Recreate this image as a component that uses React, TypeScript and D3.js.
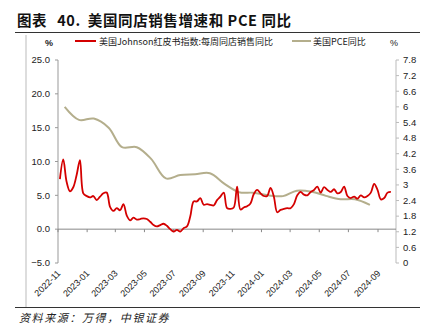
import React from "react";
import * as d3 from "d3";

const TITLE_PARTS = ["图表", "40.", "美国同店销售增速和 PCE 同比"];
const SOURCE = "资料来源：万得，中银证券";
const SERIES_RED = "美国Johnson红皮书指数:每周同店销售同比";
const SERIES_PCE = "美国PCE同比";

// weekly Redbook YoY (%), weeks ending from 2022-11-05
const redbookStart = "2022-11-05";
const redbookValues = [
  7.4, 10.3, 7.0, 5.6, 6.2, 8.0, 10.2, 5.3, 4.9, 4.7,
  4.9, 4.3, 4.8, 5.3, 5.4, 3.3, 2.7, 3.1, 2.8, 3.7,
  2.0, 1.3, 1.7, 1.4, 1.5, 1.6, 1.5, 1.1, 0.6, 0.4,
  0.6, 0.8, 0.5, 0.0, -0.35, -0.1, -0.35, 0.15, 0.4, 1.9,
  4.1, 4.1, 4.6, 3.6, 3.7, 3.6, 3.5, 4.3, 4.8, 5.4,
  3.1, 3.0, 3.2, 6.3, 2.9, 3.2, 3.4, 3.8, 5.2, 5.8,
  5.3, 4.9, 4.9, 6.1, 4.8, 2.5, 2.85, 3.0, 3.1, 3.1,
  3.7, 5.0, 5.5, 5.1, 5.0, 5.5, 5.8, 6.3, 5.4, 6.2,
  5.8, 5.5, 5.9, 5.3, 5.5, 6.3, 4.9, 4.6, 4.8, 4.5,
  5.0, 4.7, 4.9, 5.4, 6.7, 5.8, 4.4, 4.6, 5.4, 5.5,
];

// monthly PCE YoY (%), Nov 2022 .. Aug 2024
const pceMonths = [
  "2022-11", "2022-12", "2023-01", "2023-02", "2023-03", "2023-04", "2023-05", "2023-06",
  "2023-07", "2023-08", "2023-09", "2023-10", "2023-11", "2023-12", "2024-01", "2024-02",
  "2024-03", "2024-04", "2024-05", "2024-06", "2024-07", "2024-08",
];
const pceValues = [
  6.0, 5.5, 5.55, 5.2, 4.45, 4.45, 4.0, 3.25, 3.38, 3.41, 3.45, 3.05,
  2.72, 2.7, 2.6, 2.57, 2.78, 2.74, 2.58, 2.45, 2.45, 2.23,
];

const leftTicks = [-5, 0, 5, 10, 15, 20, 25];
const rightTicks = [0, 0.6, 1.2, 1.8, 2.4, 3, 3.6, 4.2, 4.8, 5.4, 6, 6.6, 7.2, 7.8];

const RED = "#d40000";
const OLIVE = "#b4ae8c";
const NUM_FONT = "'Liberation Sans', Arial, sans-serif";
const CJK_FONT = "'Noto Sans CJK SC', 'Noto Sans', sans-serif";

const parseDay = d3.timeParse("%Y-%m-%d");
const parseMonth = d3.timeParse("%Y-%m");
const fmtTick = d3.timeFormat("%Y-%m");

export default function App() {
  const W = 435, H = 331;
  const x = d3.scaleTime()
    .domain([new Date(2022, 10, 1), new Date(2024, 8, 1)])
    .range([58, 378]);
  const yL = d3.scaleLinear().domain([-5, 25]).range([263, 60]);
  const yR = d3.scaleLinear().domain([0, 7.8]).range([263, 60]);

  const start = parseDay(redbookStart)!;
  const red = redbookValues.map((v, i) => ({ d: d3.timeDay.offset(start, 7 * i), v }));
  const pce = pceValues.map((v, i) => {
    const m = parseMonth(pceMonths[i])!;
    return { d: d3.timeDay.offset(m, 14), v };
  });

  const redLine = d3.line<{ d: Date; v: number }>()
    .x((p) => x(p.d)).y((p) => yL(p.v)).curve(d3.curveCatmullRom.alpha(0.5));
  const pceLine = d3.line<{ d: Date; v: number }>()
    .x((p) => x(p.d)).y((p) => yR(p.v)).curve(d3.curveCatmullRom.alpha(0.5));

  const xTicks = d3.timeMonth.range(new Date(2022, 10, 1), new Date(2024, 9, 1), 2);
  const xLeft = 58, xRight = 396;
  const y0 = yL(0);

  return (
    <svg width={W} height={H} style={{ position: "absolute", left: 0, top: 0, background: "#fff" }}>
      {/* title */}
      <text x={17} y={26} fontFamily={CJK_FONT} fontWeight={700} fontSize={14.5} fill="#111" letterSpacing={0.6}>
        <tspan>{TITLE_PARTS[0]}</tspan>
        <tspan dx={10}>{TITLE_PARTS[1]}</tspan>
        <tspan dx={7}>{TITLE_PARTS[2]}</tspan>
      </text>
      <line x1={15} x2={420} y1={32.5} y2={32.5} stroke="#333" strokeWidth={1} />
      {/* frame left */}
      <line x1={26} x2={26} y1={35} y2={307} stroke="#bbb" strokeWidth={1} />
      {/* bottom rule */}
      <line x1={15} x2={420} y1={307.5} y2={307.5} stroke="#333" strokeWidth={1} />
      <text x={19} y={322} fontFamily={CJK_FONT} fontStyle="italic" fontSize={11} letterSpacing={1.6} fill="#222">{SOURCE}</text>

      {/* legend */}
      <line x1={75} x2={96} y1={41} y2={41} stroke={RED} strokeWidth={2} />
      <text x={99} y={44.5} fontFamily={CJK_FONT} fontSize={9} fill="#222">{SERIES_RED}</text>
      <line x1={292} x2={311} y1={41} y2={41} stroke={OLIVE} strokeWidth={2} />
      <text x={313} y={44.5} fontFamily={CJK_FONT} fontSize={9} fill="#222">{SERIES_PCE}</text>

      {/* % units */}
      <text x={49} y={46} textAnchor="middle" fontFamily={NUM_FONT} fontSize={9} fontWeight={700} fill="#222">%</text>
      <text x={394} y={46} textAnchor="middle" fontFamily={NUM_FONT} fontSize={9} fill="#222">%</text>

      {/* left axis */}
      <line x1={xLeft} x2={xLeft} y1={yL(25)} y2={yL(-5)} stroke="#999" />
      {leftTicks.map((t) => (
        <g key={"l" + t}>
          <line x1={xLeft - 3} x2={xLeft} y1={yL(t)} y2={yL(t)} stroke="#999" />
          <text x={50} y={yL(t) + 3.3} textAnchor="end" fontFamily={NUM_FONT} fontSize={9.5} fill="#222">
            {d3.format(".1f")(t)}
          </text>
        </g>
      ))}

      {/* right axis */}
      <line x1={xRight} x2={xRight} y1={yR(7.8)} y2={yR(0)} stroke="#bbb" />
      {rightTicks.map((t) => (
        <g key={"r" + t}>
          <line x1={xRight} x2={xRight + 3} y1={yR(t)} y2={yR(t)} stroke="#bbb" />
          <text x={403} y={yR(t) + 3.3} fontFamily={NUM_FONT} fontSize={9.5} fill="#222">
            {d3.format("~")(+t.toFixed(1))}
          </text>
        </g>
      ))}

      {/* x axis at zero */}
      <line x1={xLeft} x2={xRight} y1={y0} y2={y0} stroke="#888" />
      {xTicks.map((t) => (
        <g key={+t}>
          <line x1={x(t)} x2={x(t)} y1={y0} y2={y0 + 3} stroke="#888" />
          <text
            transform={`translate(${x(t) + 3},${274}) rotate(-45)`}
            textAnchor="end"
            fontFamily={NUM_FONT}
            fontSize={9}
            fill="#222"
          >
            {fmtTick(t)}
          </text>
        </g>
      ))}

      {/* series */}
      <path d={pceLine(pce) || ""} fill="none" stroke={OLIVE} strokeWidth={2} />
      <path d={redLine(red) || ""} fill="none" stroke={RED} strokeWidth={1.8} />
    </svg>
  );
}
